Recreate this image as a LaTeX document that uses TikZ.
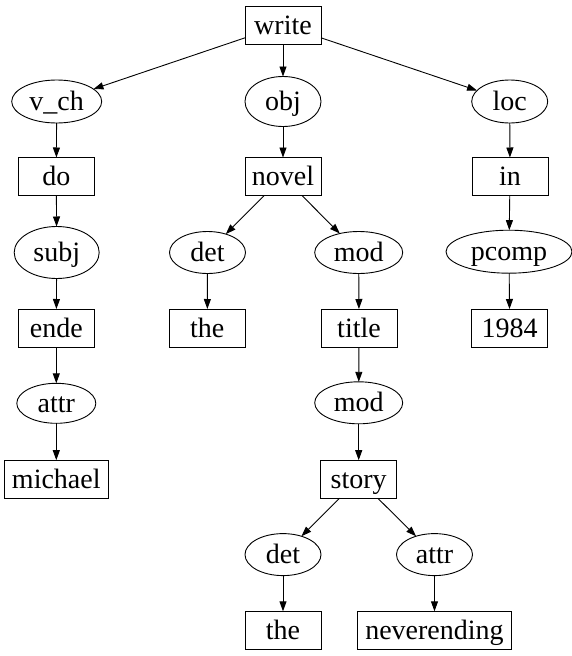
\documentclass[tikz,border=0pt]{standalone}
\usepackage{fontspec}
\setmainfont{Liberation Serif}
\usetikzlibrary{arrows.meta,shapes.geometric}
\begin{document}
\begin{tikzpicture}[x=1pt,y=-1pt,
  base/.style={draw=black,line width=0.9pt,inner sep=0pt,outer sep=0pt,
    font=\fontsize{28}{30}\selectfont,text height=21pt,text depth=3pt},
  word/.style={base,rectangle,minimum width=#1,minimum height=38pt},
  word/.default=76pt,
  rel/.style 2 args={base,ellipse,minimum width=#1,minimum height=#2},
  edge/.style={line width=0.9pt,-{Triangle[length=10pt,width=7pt]}}
]
\fill[white] (0,0) rectangle (572,656);
\useasboundingbox (0,0) rectangle (572,656);

% row 1
\node[word] (write) at (283,25) {write};
% row 2
\node[rel={90pt}{43pt}] (vch) at (56.7,101.5) {v\_ch};
\node[rel={76pt}{50pt}] (obj) at (283,101.5) {obj};
\node[rel={76pt}{43pt}] (loc) at (509.7,101.5) {loc};
% row 3
\node[word] (do) at (56.3,176.5) {do};
\node[word] (novel) at (283,176.5) {novel};
\node[word] (in) at (510,176.5) {in};
% row 4
\node[rel={85pt}{52pt}] (subj) at (56.7,252.5) {subj};
\node[rel={76pt}{42pt}] (det) at (207.5,252.5) {det};
\node[rel={88pt}{42pt}] (mod) at (358.7,252.5) {mod};
\node[rel={126pt}{43pt}] (pcomp) at (509,251.7) {pcomp};
% row 5
\node[word] (ende) at (56.3,328) {ende};
\node[word] (the) at (207.3,328) {the};
\node[word] (title) at (359,328) {title};
\node[word] (y1984) at (509.7,328) {1984};
% row 6
\node[rel={79pt}{40pt}] (attr) at (56.3,403.3) {attr};
\node[rel={88pt}{42pt}] (modb) at (358.7,402.8) {mod};
% row 7
\node[word=104pt] (michael) at (56.3,479.2) {michael};
\node[word] (story) at (358.7,479.2) {story};
% row 8
\node[rel={76pt}{42pt}] (detb) at (283,554.6) {det};
\node[rel={76pt}{42pt}] (attrb) at (434.5,554.6) {attr};
% row 9
\node[word] (theb) at (283,630.3) {the};
\node[word=154pt] (never) at (434.5,630.3) {neverending};

\draw[edge] (write) -- (vch);
\draw[edge] (write) -- (obj);
\draw[edge] (write) -- (loc);
\draw[edge] (vch) -- (do);
\draw[edge] (do) -- (subj);
\draw[edge] (subj) -- (ende);
\draw[edge] (ende) -- (attr);
\draw[edge] (attr) -- (michael);
\draw[edge] (obj) -- (novel);
\draw[edge] (novel) -- (det);
\draw[edge] (novel) -- (mod);
\draw[edge] (det) -- (the);
\draw[edge] (mod) -- (title);
\draw[edge] (title) -- (modb);
\draw[edge] (modb) -- (story);
\draw[edge] (story) -- (detb);
\draw[edge] (story) -- (attrb);
\draw[edge] (detb) -- (theb);
\draw[edge] (attrb) -- (never);
\draw[edge] (loc) -- (in);
\draw[edge] (in) -- (pcomp);
\draw[edge] (pcomp) -- (y1984);
\end{tikzpicture}
\end{document}
